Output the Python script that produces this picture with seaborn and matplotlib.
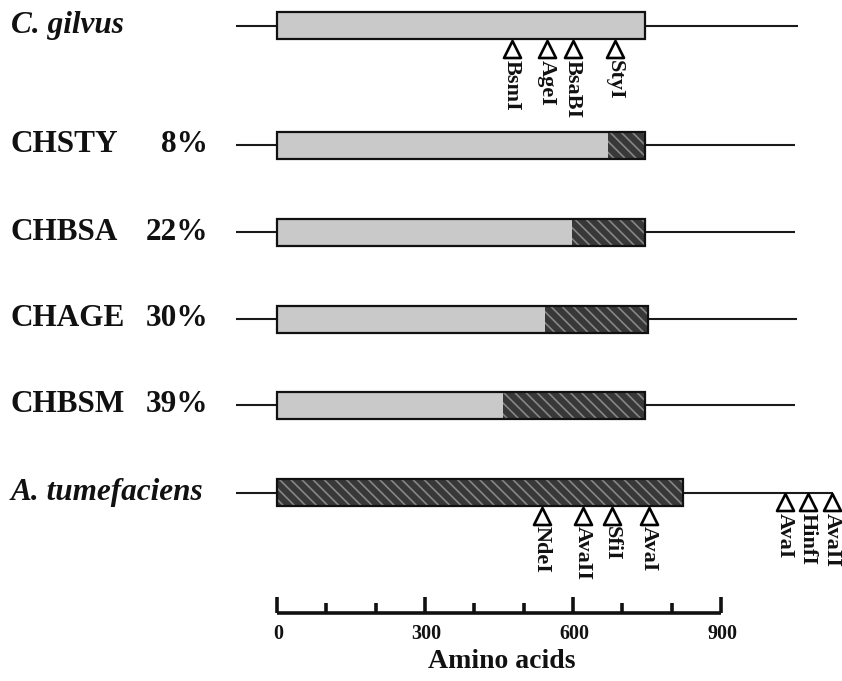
import numpy as np
import pandas as pd
import matplotlib
matplotlib.use('Agg')
import matplotlib.pyplot as plt
import matplotlib.transforms as mtransforms
import seaborn as sns

# constructs, top to bottom
names = ['C. gilvus', 'CHSTY', 'CHBSA', 'CHAGE', 'CHBSM', 'A. tumefaciens']
italic = [True, False, False, False, False, True]
percent = ['', '8%', '22%', '30%', '39%', '']
gene_end = [746, 746, 746, 752, 746, 823]      # end of coding box (aa)
grey_end = [746, 671, 598, 543, 458, 0]        # end of C. gilvus part (aa)
line_start = [-83, -83, -83, -83, -83, -83]
line_end = [1056, 1050, 1050, 1054, 1050, 1127]

# restriction sites
site_names = ['BsmI', 'AgeI', 'BsaBI', 'StyI',
              'NdeI', 'AvaII', 'SfiI', 'AvaI', 'AvaI', 'HinfI', 'AvaII']
site_pos = [476, 547, 600, 685, 537, 620, 679, 754, 1030, 1076, 1125]
site_row = [0, 0, 0, 0, 5, 5, 5, 5, 5, 5, 5]

# scale bar
major_ticks = [0, 300, 600, 900]
minor_ticks = [100, 200, 400, 500, 700, 800]
axis_label = 'Amino acids'

# layout (pixel-like y units)
row_y = [25.5, 145, 232, 319, 405, 492.5]
box_h = 27
bar_y = 613

sns.set_theme(style='white')
plt.rcParams['font.family'] = ['Liberation Serif', 'DejaVu Serif']
plt.rcParams['hatch.linewidth'] = 1.2

fig = plt.figure(figsize=(8.42, 6.81), dpi=100)
ax = fig.add_axes([0, 0, 1, 1])
px = (721 - 277) / 900.0
ax.set_xlim(-277 / px, (842 - 277) / px)
ax.set_ylim(681, 0)
ax.axis('off')

grey = '#c9c9c9'
dark = '#383838'
hatch_col = '#878787'

for i in range(len(names)):
    y = row_y[i]
    ax.hlines(y, line_start[i], line_end[i], color='#1a1a1a', lw=1.5, zorder=1)
    ax.barh(y, grey_end[i], left=0, height=box_h, color=grey, lw=0, zorder=2)
    ax.barh(y, gene_end[i] - grey_end[i], left=grey_end[i], height=box_h,
            facecolor=dark, edgecolor=hatch_col, hatch='\\\\\\', lw=0, zorder=2)
    ax.barh(y, gene_end[i], left=0, height=box_h, fill=False,
            edgecolor='#111111', lw=1.6, zorder=3)

# site markers
sites = pd.DataFrame({'name': site_names, 'pos': site_pos, 'row': site_row})
def marker_y(r):
    on_line = r['pos'] > gene_end[r['row']]
    base = row_y[r['row']] + (0 if on_line else box_h / 2)
    return base + 9.5
sites['my'] = sites.apply(marker_y, axis=1)
sns.scatterplot(data=sites, x='pos', y='my', marker='^', s=150,
                facecolor='white', edgecolor='black', linewidth=1.9,
                ax=ax, zorder=4, legend=False)
for _, r in sites.iterrows():
    ax.text(r['pos'], r['my'] + 11, r['name'], rotation=-90, ha='center',
            va='top', fontsize=16, fontweight='bold', color='#111111')

# row labels
tr = mtransforms.blended_transform_factory(ax.transAxes, ax.transData)
for i in range(len(names)):
    ax.text(11 / 842, row_y[i], names[i], transform=tr, ha='left', va='center',
            fontsize=22.5, fontweight='bold',
            style='italic' if italic[i] else 'normal', color='#111111')
    if percent[i]:
        ax.text(208 / 842, row_y[i], percent[i], transform=tr, ha='right',
                va='center', fontsize=22.5, fontweight='bold', color='#111111')

# scale bar
ax.hlines(bar_y, major_ticks[0], major_ticks[-1], color='#111111', lw=2.6)
ax.vlines(major_ticks, bar_y - 16, bar_y, color='#111111', lw=2.6)
ax.vlines(minor_ticks, bar_y - 10, bar_y, color='#111111', lw=2.6)
for t in major_ticks:
    ax.text(t + 3, 634, str(t), ha='center', va='center', fontsize=14.5,
            fontweight='bold', color='#111111')
ax.text(455, 661, axis_label, ha='center', va='center', fontsize=20,
        fontweight='bold', color='#111111')

fig.savefig('out.png', dpi=100, facecolor='white')
